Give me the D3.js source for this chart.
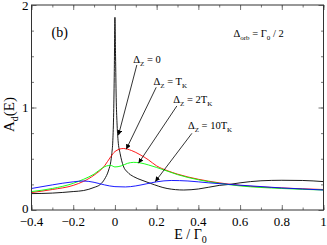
<!DOCTYPE html>
<html>
<head>
<meta charset="utf-8">
<script src="https://cdn.jsdelivr.net/npm/d3@7"></script>
<style>
  body { margin: 0; background: #fff; }
  svg, svg text { font-family: "Liberation Serif", "Times New Roman", serif; fill: #000; }
</style>
</head>
<body>
<div id="vis"></div>
<script>
const FRAME_WIDTH = 327;
const FRAME_HEIGHT = 245;
const MARGINS = {left: 31.5, right: 3.5, top: 5, bottom: 35};
const FONT = 'Liberation Serif';

const VIS_WIDTH = FRAME_WIDTH - MARGINS.left - MARGINS.right;
const VIS_HEIGHT = FRAME_HEIGHT - MARGINS.top - MARGINS.bottom;

// data: E / Gamma0 and A_d(E)
const E_ZERO = [-0.4, -0.3, -0.2, -0.15, -0.1, -0.07, -0.05, -0.03, -0.02, -0.015, -0.01, -0.006, -0.003, 0,
  0.003, 0.006, 0.01, 0.015, 0.025, 0.04, 0.06, 0.09, 0.13, 0.17, 0.25, 0.33, 0.4, 0.5, 0.55, 0.6, 0.7, 0.8, 0.9, 1.0];
const A_ZERO = [0.16, 0.165, 0.18, 0.19, 0.22, 0.25, 0.3, 0.39, 0.47, 0.55, 0.68, 0.95, 1.35, 1.88,
  1.5, 1.1, 0.85, 0.68, 0.55, 0.43, 0.37, 0.325, 0.29, 0.26, 0.21, 0.195, 0.205, 0.24, 0.25, 0.265, 0.285, 0.29, 0.288, 0.277];

const E_TK = [-0.4, -0.3, -0.2, -0.15, -0.1, -0.05, -0.02, 0, 0.04, 0.08, 0.12, 0.16, 0.2, 0.25, 0.3, 0.4, 0.5, 0.6, 0.8, 1.0];
const A_TK = [0.17, 0.2, 0.24, 0.28, 0.34, 0.43, 0.52, 0.57, 0.6, 0.58, 0.54, 0.49, 0.43, 0.385, 0.35, 0.3, 0.265, 0.24, 0.215, 0.2];

const E_2TK = [-0.4, -0.3, -0.2, -0.15, -0.1, -0.06, -0.04, -0.02, 0, 0.03, 0.06, 0.09, 0.12, 0.16, 0.2, 0.25, 0.3, 0.4, 0.5, 0.6, 0.8, 1.0];
const A_2TK = [0.18, 0.21, 0.26, 0.3, 0.35, 0.41, 0.43, 0.435, 0.42, 0.43, 0.455, 0.465, 0.46, 0.44, 0.415, 0.38, 0.345, 0.295, 0.26, 0.235, 0.21, 0.195];

const E_10TK = [-0.4, -0.3, -0.2, -0.15, -0.1, -0.05, 0, 0.05, 0.1, 0.15, 0.2, 0.27, 0.35, 0.45, 0.6, 0.8, 1.0];
const A_10TK = [0.21, 0.245, 0.275, 0.283, 0.27, 0.245, 0.228, 0.225, 0.235, 0.255, 0.275, 0.288, 0.283, 0.265, 0.242, 0.215, 0.195];

const SERIES = [
  {name: '0', sub: '', e: E_ZERO, a: A_ZERO, color: '#000000'},
  {name: 'T', sub: 'K', e: E_TK, a: A_TK, color: '#ff0000'},
  {name: '2T', sub: 'K', e: E_2TK, a: A_2TK, color: '#00ff00'},
  {name: '10T', sub: 'K', e: E_10TK, a: A_10TK, color: '#0000ff'}
];

// label anchor and arrow (from -> to), in data units
const LABEL_POS = [[0.088, 1.43], [0.185, 1.22], [0.28, 1.045], [0.35, 0.795]];
const ARROW_FROM = [[0.105, 1.415], [0.198, 1.197], [0.297, 1.015], [0.369, 0.748]];
const ARROW_TO = [[0.017, 0.73], [0.054, 0.592], [0.113, 0.456], [0.193, 0.276]];

const X_TICKS = [-0.4, -0.2, 0, 0.2, 0.4, 0.6, 0.8, 1];
const X_MINOR = d3.range(-0.4, 1.001, 0.1);
const Y_TICKS = [0, 1, 2];
const Y_MINOR = d3.range(0, 2.001, 0.25);

const FRAME = d3.select('#vis')
  .append('svg')
    .attr('width', FRAME_WIDTH)
    .attr('height', FRAME_HEIGHT)
    .attr('font-family', FONT);

const X_SCALE = d3.scaleLinear().domain([-0.4, 1]).range([0, VIS_WIDTH]);
const Y_SCALE = d3.scaleLinear().domain([0, 2]).range([VIS_HEIGHT, 0]);

const G = FRAME.append('g')
  .attr('transform', 'translate(' + MARGINS.left + ',' + MARGINS.top + ')');

FRAME.append('defs').append('clipPath').attr('id', 'clip')
  .append('rect').attr('width', VIS_WIDTH).attr('height', VIS_HEIGHT);

FRAME.select('defs').append('marker')
    .attr('id', 'head')
    .attr('viewBox', '0 0 10 10')
    .attr('refX', 10).attr('refY', 5)
    .attr('markerWidth', 5).attr('markerHeight', 5)
    .attr('markerUnits', 'userSpaceOnUse')
    .attr('orient', 'auto')
  .append('path')
    .attr('d', 'M0,0 L10,5 L0,10 z')
    .attr('fill', '#000');

// ticks, pointing inward on all four sides
function tickAxis(axisFn, scale, values, size) {
  return axisFn(scale).tickValues(values).tickSize(size).tickSizeOuter(0).tickFormat(() => '');
}

const axes = [
  [d3.axisBottom, X_SCALE, X_MINOR, -2.5, 'translate(0,' + VIS_HEIGHT + ')'],
  [d3.axisBottom, X_SCALE, X_TICKS, -5, 'translate(0,' + VIS_HEIGHT + ')'],
  [d3.axisTop, X_SCALE, X_MINOR, -2.5, null],
  [d3.axisTop, X_SCALE, X_TICKS, -5, null],
  [d3.axisLeft, Y_SCALE, Y_MINOR, -2.5, null],
  [d3.axisLeft, Y_SCALE, Y_TICKS, -5, null],
  [d3.axisRight, Y_SCALE, Y_MINOR, -2.5, 'translate(' + VIS_WIDTH + ',0)'],
  [d3.axisRight, Y_SCALE, Y_TICKS, -5, 'translate(' + VIS_WIDTH + ',0)']
];
axes.forEach(([fn, sc, vals, size, tr]) => {
  const g = G.append('g').call(tickAxis(fn, sc, vals, size));
  if (tr) g.attr('transform', tr);
  g.select('.domain').remove();
  g.selectAll('line').attr('stroke', '#777').attr('stroke-width', 1);
});

// curves
const line = d3.line()
  .x(d => X_SCALE(d[0]))
  .y(d => Y_SCALE(d[1]))
  .curve(d3.curveMonotoneX);

G.append('g').attr('clip-path', 'url(#clip)')
  .selectAll('path')
  .data(SERIES)
  .enter()
  .append('path')
    .attr('d', s => line(s.e.map((e, i) => [e, s.a[i]])))
    .attr('fill', 'none')
    .attr('stroke', s => s.color)
    .attr('stroke-width', 0.9);

// frame
G.append('rect')
  .attr('width', VIS_WIDTH).attr('height', VIS_HEIGHT)
  .attr('fill', 'none').attr('stroke', '#333').attr('stroke-width', 1);

// tick labels
G.selectAll('.xlab')
  .data(X_TICKS)
  .enter()
  .append('text')
    .attr('font-family', FONT)
    .attr('x', d => X_SCALE(d))
    .attr('y', VIS_HEIGHT + 16)
    .attr('text-anchor', 'middle')
    .attr('font-size', 13)
    .text(d => d3.format('')(d));

G.selectAll('.ylab')
  .data(Y_TICKS)
  .enter()
  .append('text')
    .attr('font-family', FONT)
    .attr('x', -3)
    .attr('y', d => Y_SCALE(d) + (d === 0 ? 2.5 : d === 2 ? 5 : 4.5))
    .attr('text-anchor', 'end')
    .attr('font-size', 13)
    .text(d => d);

// axis titles
const xt = G.append('text')
  .attr('font-family', FONT)
  .attr('x', VIS_WIDTH / 2 + 13)
  .attr('y', VIS_HEIGHT + 29)
  .attr('text-anchor', 'middle')
  .attr('font-size', 14);
xt.append('tspan').text('E / Γ');
xt.append('tspan').attr('font-size', 10).attr('dy', 3.5).text('0');

const yt = G.append('text')
  .attr('font-family', FONT)
  .attr('transform', 'translate(' + (-18) + ',' + (Y_SCALE(1) + 7) + ') rotate(-90)')
  .attr('text-anchor', 'middle')
  .attr('font-size', 15);
yt.append('tspan').text('A');
yt.append('tspan').attr('font-size', 10).attr('dy', 4).text('d');
yt.append('tspan').attr('dy', -4).text('(E)');

// panel tag and parameter
G.append('text')
  .attr('font-family', FONT)
  .attr('x', 20).attr('y', 32)
  .attr('font-size', 14)
  .text('(b)');

const par = G.append('text')
  .attr('font-family', FONT)
  .attr('x', 202).attr('y', 32)
  .attr('font-size', 10.5);
par.append('tspan').text('Δ');
par.append('tspan').attr('font-size', 7).attr('dy', 3).text('orb');
par.append('tspan').attr('dy', -3).text(' = Γ');
par.append('tspan').attr('font-size', 7).attr('dy', 3).text('0');
par.append('tspan').attr('dy', -3).text(' / 2');

// annotations with arrows
SERIES.forEach((s, i) => {
  const t = G.append('text')
    .attr('font-family', FONT)
    .attr('x', X_SCALE(LABEL_POS[i][0]))
    .attr('y', Y_SCALE(LABEL_POS[i][1]))
    .attr('font-size', 10.5);
  t.append('tspan').text('Δ');
  t.append('tspan').attr('font-size', 7).attr('dy', 3).text('Z');
  t.append('tspan').attr('dy', -3).text(' = ' + s.name);
  if (s.sub) t.append('tspan').attr('font-size', 7).attr('dy', 3).text(s.sub);

  G.append('line')
    .attr('x1', X_SCALE(ARROW_FROM[i][0])).attr('y1', Y_SCALE(ARROW_FROM[i][1]))
    .attr('x2', X_SCALE(ARROW_TO[i][0])).attr('y2', Y_SCALE(ARROW_TO[i][1]))
    .attr('stroke', '#000').attr('stroke-width', 0.8)
    .attr('marker-end', 'url(#head)');
});
</script>
</body>
</html>
